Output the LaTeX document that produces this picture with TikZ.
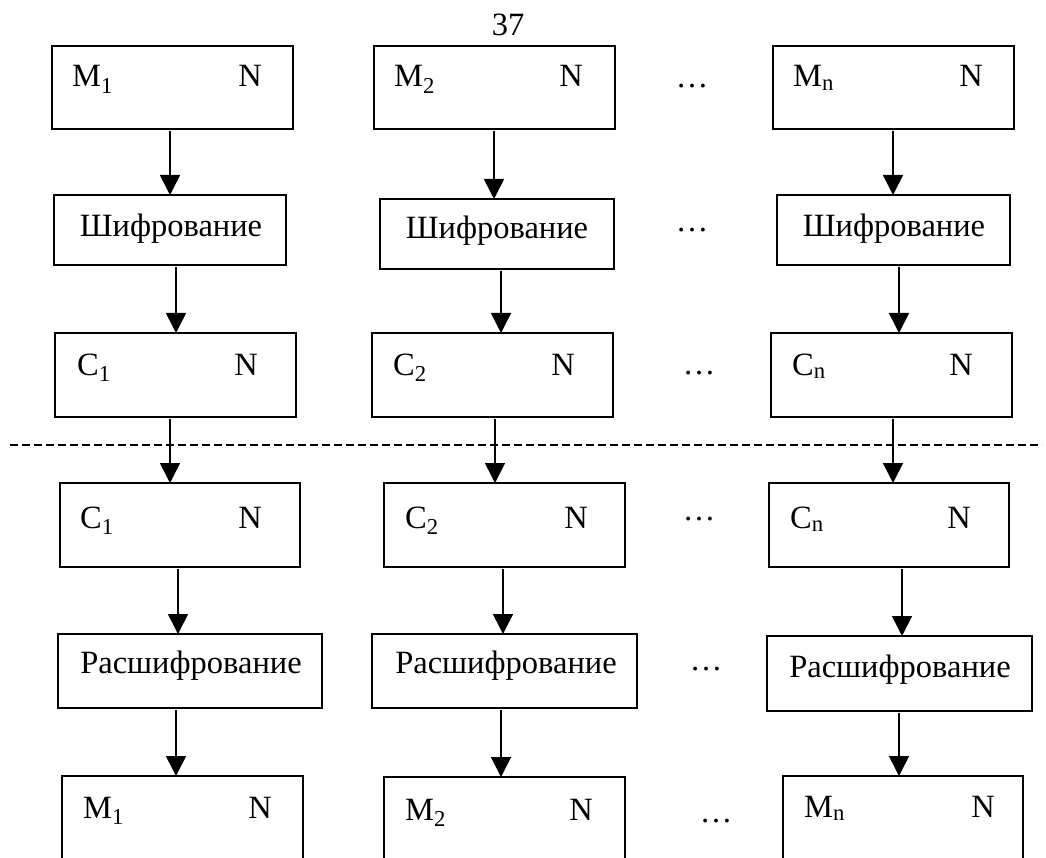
\documentclass[tikz,border=0pt]{standalone}
\usepackage{fontspec}
\setmainfont{Liberation Serif}
\usetikzlibrary{arrows.meta}

% rectangular block given by its corners (left, top, right, bottom)
\newcommand{\mkbox}[5]{%
  \node[blk, minimum width={#4-#2}, minimum height={#5-#3}] (#1) at ({(#2+#4)/2},{(#3+#5)/2}) {};}

\begin{document}
\begin{tikzpicture}[x=1pt, y=-1pt,
  blk/.style={draw, line width=1.6pt, inner sep=0pt, outer sep=0pt},
  lbl/.style={inner sep=0pt, font=\fontsize{32.5}{36}\selectfont},
  arr/.style={line width=1.6pt, -{Triangle[width=20pt,length=20pt]}, shorten <=2pt},
  sep/.style={line width=1.6pt, dash pattern=on 8pt off 4pt}]
\useasboundingbox (0,0) rectangle (1046,858);
\clip (0,0) rectangle (1046,858);

% page number
\node[lbl, anchor=base] (pg) at (508,36) {37};

% ---------- encryption side ----------
\mkbox{m1}{52}{46}{293}{129}
\mkbox{m2}{374}{46}{615}{129}
\mkbox{mn}{773}{46}{1014}{129}
\node[lbl, anchor=base west] (m1a) at (72,87) {M\textsubscript{1}};
\node[lbl, anchor=base east] (m1b) at (262,87) {N};
\node[lbl, anchor=base west] (m2a) at (394,87) {M\textsubscript{2}};
\node[lbl, anchor=base east] (m2b) at (583,87) {N};
\node[lbl, anchor=base west] (mna) at (793,87) {M\textsubscript{n}};
\node[lbl, anchor=base east] (mnb) at (983,87) {N};
\node[lbl, anchor=base] (d1) at (692,88) {…};

\mkbox{s1}{54}{195}{286}{265}
\mkbox{s2}{380}{199}{614}{269}
\mkbox{sn}{777}{195}{1010}{265}
\node[lbl, anchor=base] (s1t) at (171,237) {Шифрование};
\node[lbl, anchor=base] (s2t) at (497,239) {Шифрование};
\node[lbl, anchor=base] (snt) at (894,237) {Шифрование};
\node[lbl, anchor=base] (d2) at (692,232) {…};

\mkbox{c1}{55}{333}{296}{417}
\mkbox{c2}{372}{333}{613}{417}
\mkbox{cn}{771}{333}{1012}{417}
\node[lbl, anchor=base west] (c1a) at (77,375) {C\textsubscript{1}};
\node[lbl, anchor=base east] (c1b) at (258,375) {N};
\node[lbl, anchor=base west] (c2a) at (393,375) {C\textsubscript{2}};
\node[lbl, anchor=base east] (c2b) at (575,375) {N};
\node[lbl, anchor=base west] (cna) at (792,375) {C\textsubscript{n}};
\node[lbl, anchor=base east] (cnb) at (973,375) {N};
\node[lbl, anchor=base] (d3) at (699,374) {…};

% ---------- channel boundary ----------
\coordinate (sepL) at (10,445);
\coordinate (sepR) at (1042,445);
\draw[sep] (sepL) -- (sepR);

% ---------- decryption side ----------
\mkbox{e1}{60}{483}{300}{567}
\mkbox{e2}{384}{483}{625}{567}
\mkbox{en}{769}{483}{1009}{567}
\node[lbl, anchor=base west] (e1a) at (80,528) {C\textsubscript{1}};
\node[lbl, anchor=base east] (e1b) at (262,528) {N};
\node[lbl, anchor=base west] (e2a) at (405,528) {C\textsubscript{2}};
\node[lbl, anchor=base east] (e2b) at (588,528) {N};
\node[lbl, anchor=base west] (ena) at (790,528) {C\textsubscript{n}};
\node[lbl, anchor=base east] (enb) at (971,528) {N};
\node[lbl, anchor=base] (d4) at (699,520) {…};

\mkbox{r1}{58}{634}{322}{708}
\mkbox{r2}{372}{634}{637}{708}
\mkbox{rn}{767}{636}{1032}{711}
\node[lbl, anchor=base] (r1t) at (191,673) {Расшифрование};
\node[lbl, anchor=base] (r2t) at (506,673) {Расшифрование};
\node[lbl, anchor=base] (rnt) at (900,677) {Расшифрование};
\node[lbl, anchor=base] (d5) at (706,670) {…};

% output blocks run past the lower edge
\mkbox{p1}{62}{776}{303}{900}
\mkbox{p2}{384}{777}{625}{900}
\mkbox{pn}{783}{776}{1023}{900}
\node[lbl, anchor=base west] (p1a) at (83,818) {M\textsubscript{1}};
\node[lbl, anchor=base east] (p1b) at (272,818) {N};
\node[lbl, anchor=base west] (p2a) at (405,820) {M\textsubscript{2}};
\node[lbl, anchor=base east] (p2b) at (593,820) {N};
\node[lbl, anchor=base west] (pna) at (804,817) {M\textsubscript{n}};
\node[lbl, anchor=base east] (pnb) at (995,817) {N};
\node[lbl, anchor=base] (d6) at (716,822) {…};

% ---------- arrows ----------
\draw[arr] (m1.south -| 170,0) -- (s1.north -| 170,0);
\draw[arr] (m2.south -| 494,0) -- (s2.north -| 494,0);
\draw[arr] (mn.south -| 893,0) -- (sn.north -| 893,0);

\draw[arr] (s1.south -| 176,0) -- (c1.north -| 176,0);
\draw[arr] (s2.south -| 501,0) -- (c2.north -| 501,0);
\draw[arr] (sn.south -| 899,0) -- (cn.north -| 899,0);

\draw[arr] (c1.south -| 170,0) -- (e1.north -| 170,0);
\draw[arr] (c2.south -| 495,0) -- (e2.north -| 495,0);
\draw[arr] (cn.south -| 893,0) -- (en.north -| 893,0);

\draw[arr] (e1.south -| 178,0) -- (r1.north -| 178,0);
\draw[arr] (e2.south -| 503,0) -- (r2.north -| 503,0);
\draw[arr] (en.south -| 902,0) -- (rn.north -| 902,0);

\draw[arr] (r1.south -| 176,0) -- (p1.north -| 176,0);
\draw[arr] (r2.south -| 501,0) -- (p2.north -| 501,0);
\draw[arr] (rn.south -| 899,0) -- (pn.north -| 899,0);
\end{tikzpicture}
\end{document}
